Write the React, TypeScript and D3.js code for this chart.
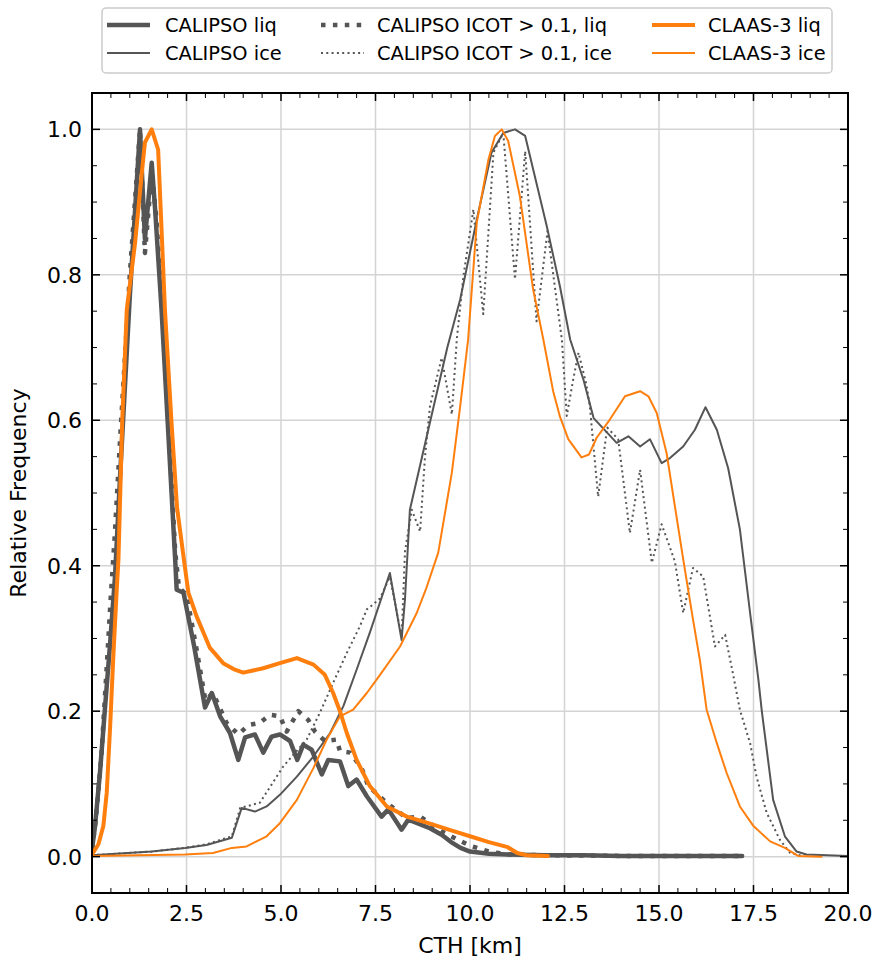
import React from "react";
import * as d3 from "d3";

// ---------- data ----------
const liqX = [0, 0.08, 0.21, 0.34, 0.48, 0.61, 0.75, 1.0, 1.27, 1.4, 1.58, 1.67, 1.84, 2.0, 2.2, 2.24, 2.42, 2.7, 2.99, 3.17, 3.39, 3.65, 3.87, 4.05, 4.31, 4.53, 4.75, 4.97, 5.24, 5.43, 5.59, 5.81, 6.08, 6.25, 6.56, 6.78, 7.0, 7.27, 7.66, 7.84, 8.19, 8.37, 8.94, 9.25, 9.5, 9.75, 10.0, 10.5, 11.0, 12.0, 13, 14, 15, 16, 17.2];
const liqV = [0.01, 0.042, 0.115, 0.202, 0.294, 0.386, 0.53, 0.77, 1.0, 0.849, 0.954, 0.89, 0.752, 0.6, 0.409, 0.367, 0.363, 0.29, 0.205, 0.225, 0.193, 0.17, 0.133, 0.164, 0.168, 0.143, 0.165, 0.168, 0.159, 0.133, 0.154, 0.147, 0.113, 0.133, 0.131, 0.097, 0.106, 0.083, 0.055, 0.065, 0.037, 0.051, 0.039, 0.03, 0.02, 0.012, 0.007, 0.004, 0.003, 0.002, 0.002, 0.001, 0.001, 0.001, 0.001];

const iceX = [0, 1.58, 2.46, 3.03, 3.7, 3.96, 4.31, 4.62, 4.97, 5.42, 5.86, 6.3, 6.65, 7.0, 7.35, 7.88, 8.19, 8.28, 8.41, 8.94, 9.4, 9.74, 10.18, 10.57, 10.88, 11.19, 11.46, 12.03, 12.38, 12.65, 13.0, 13.27, 13.88, 14.19, 14.5, 14.76, 15.07, 15.29, 15.64, 15.95, 16.23, 16.53, 16.83, 17.14, 17.41, 17.63, 17.72, 18.02, 18.33, 18.64, 18.9, 20];
const iceV = [0.002, 0.007, 0.012, 0.016, 0.026, 0.067, 0.062, 0.069, 0.085, 0.11, 0.138, 0.17, 0.207, 0.257, 0.308, 0.39, 0.298, 0.354, 0.477, 0.597, 0.7, 0.766, 0.876, 0.968, 0.995, 1.0, 0.991, 0.867, 0.784, 0.711, 0.656, 0.603, 0.569, 0.578, 0.564, 0.574, 0.541, 0.548, 0.564, 0.587, 0.618, 0.587, 0.534, 0.45, 0.335, 0.243, 0.2, 0.078, 0.028, 0.007, 0.003, 0.001];

const icotLiqX = [0, 0.1, 0.25, 0.4, 0.5, 0.6, 0.75, 1.0, 1.27, 1.4, 1.58, 1.7, 1.85, 2.0, 2.2, 2.3, 2.5, 2.75, 3.0, 3.2, 3.56, 3.87, 4.14, 4.44, 4.71, 4.97, 5.15, 5.46, 5.72, 5.9, 6.16, 6.47, 6.56, 6.83, 7.13, 7.31, 7.71, 7.97, 8.33, 8.68, 8.94, 9.25, 9.5, 10.0, 10.5, 11.0, 12.0, 14, 17.2];
const icotLiqV = [0.01, 0.05, 0.14, 0.27, 0.36, 0.44, 0.58, 0.8, 1.0, 0.83, 0.94, 0.88, 0.76, 0.62, 0.42, 0.37, 0.36, 0.29, 0.215, 0.225, 0.184, 0.168, 0.181, 0.184, 0.195, 0.193, 0.172, 0.2, 0.188, 0.172, 0.159, 0.161, 0.145, 0.143, 0.122, 0.097, 0.078, 0.067, 0.053, 0.055, 0.046, 0.035, 0.028, 0.015, 0.007, 0.003, 0.002, 0.001, 0.001];

const icotIceX = [0, 1.58, 2.46, 3.03, 3.7, 3.92, 4.44, 5.06, 5.68, 6.03, 6.38, 6.74, 7.09, 7.27, 7.44, 7.62, 7.88, 8.05, 8.19, 8.28, 8.46, 8.68, 8.81, 8.94, 9.25, 9.52, 9.65, 9.83, 10.09, 10.35, 10.62, 10.88, 11.19, 11.46, 11.76, 12.05, 12.43, 12.56, 12.73, 12.87, 13.08, 13.17, 13.39, 13.63, 13.92, 14.23, 14.5, 14.81, 15.07, 15.42, 15.64, 15.9, 16.17, 16.48, 16.75, 16.97, 17.14, 17.41, 17.58, 17.85, 18.2, 18.47, 18.8];
const icotIceV = [0.002, 0.007, 0.012, 0.017, 0.028, 0.067, 0.074, 0.124, 0.161, 0.198, 0.239, 0.28, 0.317, 0.34, 0.347, 0.355, 0.385, 0.34, 0.3, 0.42, 0.477, 0.447, 0.55, 0.619, 0.686, 0.608, 0.711, 0.8, 0.89, 0.746, 0.968, 0.995, 0.794, 0.97, 0.736, 0.86, 0.711, 0.606, 0.656, 0.693, 0.649, 0.619, 0.495, 0.59, 0.574, 0.445, 0.532, 0.404, 0.457, 0.406, 0.335, 0.397, 0.385, 0.289, 0.305, 0.248, 0.202, 0.156, 0.11, 0.06, 0.023, 0.005, 0.001];

const claasLiqX = [0, 0.17, 0.3, 0.39, 0.48, 0.56, 0.65, 0.7, 0.8, 0.92, 1.14, 1.31, 1.4, 1.58, 1.75, 1.93, 2.1, 2.25, 2.43, 2.55, 2.77, 3.12, 3.47, 3.78, 4.0, 4.53, 4.97, 5.42, 5.86, 6.16, 6.38, 6.56, 6.74, 7.0, 7.35, 7.8, 8.33, 8.9, 9.5, 10.0, 10.5, 11.0, 11.25, 11.5, 12.06];
const claasLiqV = [0.003, 0.017, 0.042, 0.088, 0.179, 0.271, 0.363, 0.409, 0.6, 0.752, 0.844, 0.936, 0.982, 1.0, 0.972, 0.752, 0.6, 0.48, 0.409, 0.363, 0.33, 0.287, 0.266, 0.257, 0.253, 0.259, 0.266, 0.273, 0.264, 0.25, 0.225, 0.2, 0.17, 0.133, 0.097, 0.069, 0.055, 0.046, 0.036, 0.028, 0.02, 0.013, 0.005, 0.002, 0.001];

const claasIceX = [0, 2.46, 3.2, 3.7, 4.09, 4.62, 4.97, 5.42, 5.86, 6.21, 6.56, 6.91, 7.27, 7.62, 8.15, 8.59, 8.85, 9.16, 9.52, 9.74, 9.95, 10.18, 10.49, 10.66, 10.84, 11.01, 11.32, 11.67, 11.94, 12.2, 12.38, 12.6, 12.95, 13.15, 13.35, 13.7, 14.1, 14.5, 14.72, 14.94, 15.2, 15.42, 15.64, 15.9, 16.08, 16.26, 16.53, 16.79, 17.14, 17.5, 17.94, 18.33, 18.68, 19.3];
const claasIceV = [0.001, 0.003, 0.005, 0.012, 0.014, 0.028, 0.046, 0.078, 0.122, 0.161, 0.193, 0.202, 0.225, 0.25, 0.289, 0.335, 0.37, 0.418, 0.528, 0.619, 0.711, 0.872, 0.959, 0.991, 1.0, 0.984, 0.908, 0.78, 0.711, 0.64, 0.605, 0.574, 0.549, 0.553, 0.576, 0.601, 0.633, 0.64, 0.633, 0.61, 0.555, 0.482, 0.409, 0.326, 0.271, 0.202, 0.156, 0.115, 0.069, 0.042, 0.021, 0.012, 0.001, 0.0];

const xTicks = [0, 2.5, 5, 7.5, 10, 12.5, 15, 17.5, 20];
const yTicks = [0, 0.2, 0.4, 0.6, 0.8, 1.0];
const legendLabels = ["CALIPSO liq", "CALIPSO ice", "CALIPSO ICOT > 0.1, liq", "CALIPSO ICOT > 0.1, ice", "CLAAS-3 liq", "CLAAS-3 ice"];

const GRAY = "#555555";
const ORANGE = "#ff7f0e";

export default function App() {
  const W = 877, H = 958;
  const L = 92, R = 848, T = 93, B = 893;
  const x = d3.scaleLinear().domain([0, 20]).range([L, R]);
  const y = d3.scaleLinear().domain([-0.05, 1.05]).range([B, T]);
  const mk = (xs: number[], vs: number[]) =>
    d3.line<number>().x((_, i) => x(xs[i])).y((v) => y(v))(vs) || "";

  const series = [
    { d: mk(liqX, liqV), color: GRAY, w: 4.5, dash: null },
    { d: mk(iceX, iceV), color: GRAY, w: 2, dash: null },
    { d: mk(icotLiqX, icotLiqV), color: GRAY, w: 4.5, dash: "4.5 7.4" },
    { d: mk(icotIceX, icotIceV), color: GRAY, w: 2, dash: "2 3.3" },
    { d: mk(claasLiqX, claasLiqV), color: ORANGE, w: 4, dash: null },
    { d: mk(claasIceX, claasIceV), color: ORANGE, w: 2, dash: null },
  ];

  const xMinor = d3.range(0, 20.001, 0.5).filter((v) => Math.abs(v / 2.5 - Math.round(v / 2.5)) > 1e-6);
  const yMinor = d3.range(-0.05, 1.0501, 0.05).filter((v) => Math.abs(v / 0.2 - Math.round(v / 0.2)) > 1e-6);

  const font = "DejaVu Sans, sans-serif";
  const legendCols = [
    { hx: 107, tx: 165 },
    { hx: 321, tx: 377 },
    { hx: 652, tx: 708 },
  ];
  const rowsY = [25, 53];

  return (
    <svg width={W} height={H} style={{ position: "absolute", left: 0, top: 0, background: "#fff" }} fontFamily={font}>
      <defs>
        <clipPath id="plot">
          <rect x={L} y={T} width={R - L} height={B - T} />
        </clipPath>
      </defs>
      <rect x={0} y={0} width={W} height={H} fill="#fff" />
      {/* grid */}
      {xTicks.map((t) => (
        <line key={"gx" + t} x1={x(t)} x2={x(t)} y1={T} y2={B} stroke="#d4d4d4" strokeWidth={1.5} />
      ))}
      {yTicks.map((t) => (
        <line key={"gy" + t} x1={L} x2={R} y1={y(t)} y2={y(t)} stroke="#d4d4d4" strokeWidth={1.5} />
      ))}
      {/* series */}
      <g clipPath="url(#plot)">
        {series.map((s, i) => (
          <path key={i} d={s.d} fill="none" stroke={s.color} strokeWidth={s.w}
            strokeDasharray={s.dash || undefined} strokeLinejoin="round" strokeLinecap={s.dash ? "butt" : "round"} />
        ))}
      </g>
      {/* ticks */}
      {xTicks.map((t) => (
        <g key={"tx" + t}>
          <line x1={x(t)} x2={x(t)} y1={B} y2={B - 8} stroke="#000" strokeWidth={1.5} />
          <line x1={x(t)} x2={x(t)} y1={T} y2={T + 8} stroke="#000" strokeWidth={1.5} />
          <text x={x(t)} y={921} fontSize={22} textAnchor="middle">{t.toFixed(1)}</text>
        </g>
      ))}
      {xMinor.map((t) => (
        <g key={"mx" + t}>
          <line x1={x(t)} x2={x(t)} y1={B} y2={B - 5} stroke="#000" strokeWidth={1} />
          <line x1={x(t)} x2={x(t)} y1={T} y2={T + 5} stroke="#000" strokeWidth={1} />
        </g>
      ))}
      {yTicks.map((t) => (
        <g key={"ty" + t}>
          <line x1={L} x2={L + 8} y1={y(t)} y2={y(t)} stroke="#000" strokeWidth={1.5} />
          <line x1={R} x2={R - 8} y1={y(t)} y2={y(t)} stroke="#000" strokeWidth={1.5} />
          <text x={82} y={y(t) + 8} fontSize={22} textAnchor="end">{t.toFixed(1)}</text>
        </g>
      ))}
      {yMinor.map((t) => (
        <g key={"my" + t}>
          <line x1={L} x2={L + 5} y1={y(t)} y2={y(t)} stroke="#000" strokeWidth={1} />
          <line x1={R} x2={R - 5} y1={y(t)} y2={y(t)} stroke="#000" strokeWidth={1} />
        </g>
      ))}
      {/* frame */}
      <rect x={L} y={T} width={R - L} height={B - T} fill="none" stroke="#000" strokeWidth={2} />
      {/* axis labels */}
      <text x={(L + R) / 2} y={953} fontSize={22} textAnchor="middle">CTH [km]</text>
      <text transform={`translate(26,${(T + B) / 2}) rotate(-90)`} fontSize={22} textAnchor="middle">Relative Frequency</text>
      {/* legend */}
      <rect x={102} y={8} width={730} height={65} rx={4} fill="#fff" fillOpacity={0.8} stroke="#cccccc" strokeWidth={1.5} />
      {series.map((s, i) => {
        const c = legendCols[Math.floor(i / 2)];
        const ry = rowsY[i % 2];
        return (
          <g key={"lg" + i}>
            <line x1={c.hx} x2={c.hx + 43} y1={ry} y2={ry} stroke={s.color} strokeWidth={s.w}
              strokeDasharray={s.dash || undefined} />
            <text x={c.tx} y={ry + 7} fontSize={19.4}>{legendLabels[i]}</text>
          </g>
        );
      })}
    </svg>
  );
}
